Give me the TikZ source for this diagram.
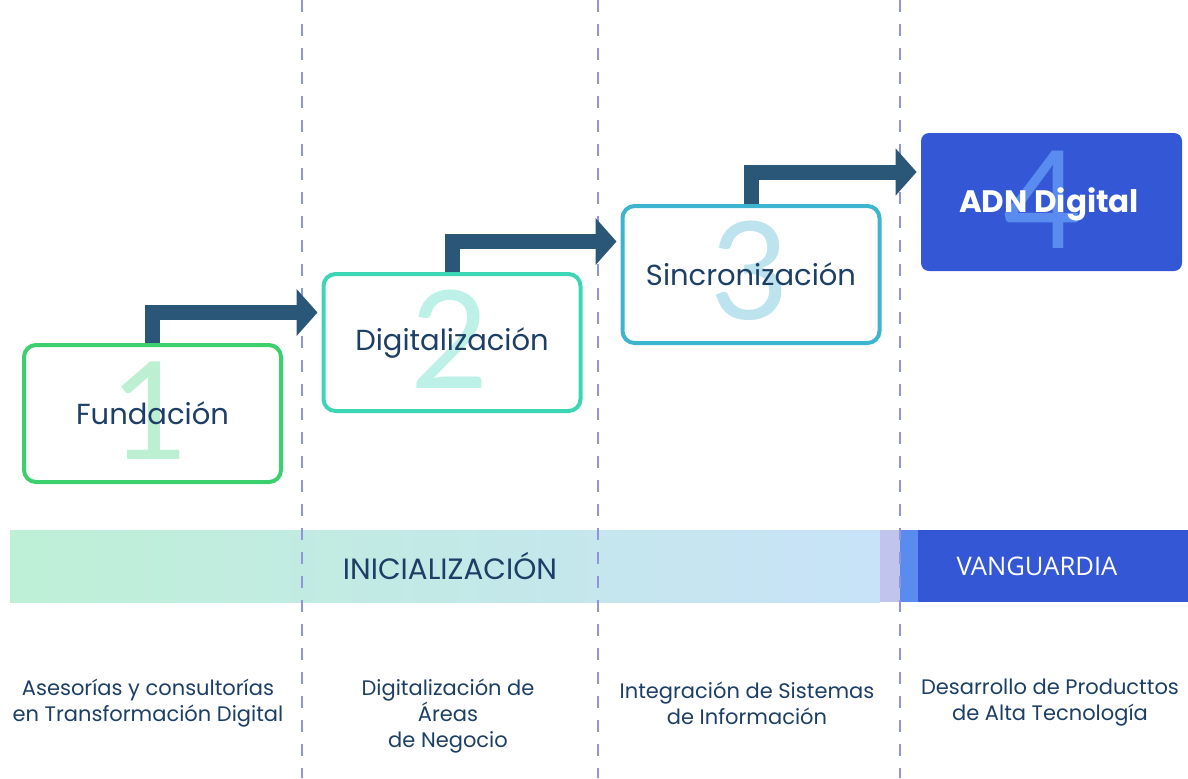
\documentclass[tikz,border=0pt]{standalone}
\usepackage{fontspec}
\setmainfont{Poppins}
\newfontfamily\bandfont{Open Sans}
\newfontfamily\digitfont{Lato}
\usetikzlibrary{arrows.meta}

\definecolor{navy}{HTML}{1D3F66}
\definecolor{arrowblue}{HTML}{2A5678}
\definecolor{guideblue}{HTML}{8F94DC}
\definecolor{greenone}{HTML}{3CCF6E}
\definecolor{greentwo}{HTML}{3DD6B4}
\definecolor{cyanthree}{HTML}{3DB5D0}
\definecolor{royal}{HTML}{3457D5}
\definecolor{numone}{HTML}{BDEFD3}
\definecolor{numtwo}{HTML}{BDF0E6}
\definecolor{numthree}{HTML}{BCE3EE}
\definecolor{numfour}{HTML}{5A8CF0}
\definecolor{bandleft}{HTML}{BEF0D6}
\definecolor{bandmid}{HTML}{C4EEE6}
\definecolor{bandright}{HTML}{C8E2F8}

\begin{document}
\begin{tikzpicture}[x=0.5pt,y=-0.5pt,
    stage/.style={draw, line width=2pt, rounded corners=6pt, minimum width=128.5pt,
      minimum height=68.5pt, inner sep=0pt, text=navy, font=\fontsize{14.5}{16}\selectfont},
    bignum/.style={inner sep=0pt, font=\digitfont\fontsize{68}{68}\selectfont},
    steparrow/.style={draw=arrowblue, line width=7.5pt, line join=miter,
      -{Triangle[length=10.5pt,width=23pt]}, shorten >=2pt},
    guide/.style={draw=guideblue, line width=1pt, dash pattern=on 6pt off 6pt},
    note/.style={align=center, text=navy, font=\fontsize{10.5}{13}\selectfont}]
  \useasboundingbox (0,0) rectangle (1188,778);

  % phase band
  \shade[left color=bandleft, middle color=bandmid, right color=bandright]
    (10,530) rectangle (880,602);
  \fill[fill=guideblue!55] (880,530) rectangle (900,602);
  \fill[fill=numfour] (900,530) rectangle (918,602);
  \fill[fill=royal] (918,530) rectangle (1188,602);
  \node[text=navy, font=\fontsize{14.7}{16}\selectfont] (ini) at (450,566) {INICIALIZACIÓN};
  \node[text=white, font=\bandfont\fontsize{12.8}{15}\selectfont] (van) at (1037,566) {VANGUARDIA};

  % column guides
  \foreach \x in {302,598,900}
    \draw[guide] (\x,0) -- (\x,778);

  % big numbers
  \node[bignum, text=numone] (n1) at (150,411) {1};
  \node[bignum, text=numtwo] (n2) at (450,339) {2};
  \node[bignum, text=numthree] (n3) at (750,271) {3};

  % stages
  \node[stage, draw=greenone] (f1) at (152.5,413.5) {Fundación};
  \node[stage, draw=greentwo] (f2) at (452,342.5) {Digitalización};
  \node[stage, draw=cyanthree] (f3) at (751,274.5) {Sincronización};
  \node[fill=royal, rounded corners=4pt, minimum width=130.5pt, minimum height=69pt,
    inner sep=0pt] (f4) at (1051.5,202) {};
  \node[bignum, text=numfour] (n4) at (1043,200) {4};
  \node[text=white, font=\bfseries\fontsize{15.5}{17}\selectfont] (adn) at (1049,204) {ADN Digital};

  \draw[steparrow] (f1.north) |- ([yshift=15pt]f2.west);
  \draw[steparrow] (f2.north) |- ([yshift=16.5pt]f3.west);
  \draw[steparrow] (f3.north) |- ([yshift=15pt]f4.west);

  % descriptions
  \node[note] (d1) at (148,703) {Asesorías y consultorías\\en Transformación Digital};
  \node[note] (d2) at (448,716) {Digitalización de\\Áreas\\de Negocio};
  \node[note] (d3) at (747,703) {Integración de Sistemas\\de Información};
  \node[note] (d4) at (1050,703) {Desarrollo de Producttos\\de Alta Tecnología};
\end{tikzpicture}
\end{document}
